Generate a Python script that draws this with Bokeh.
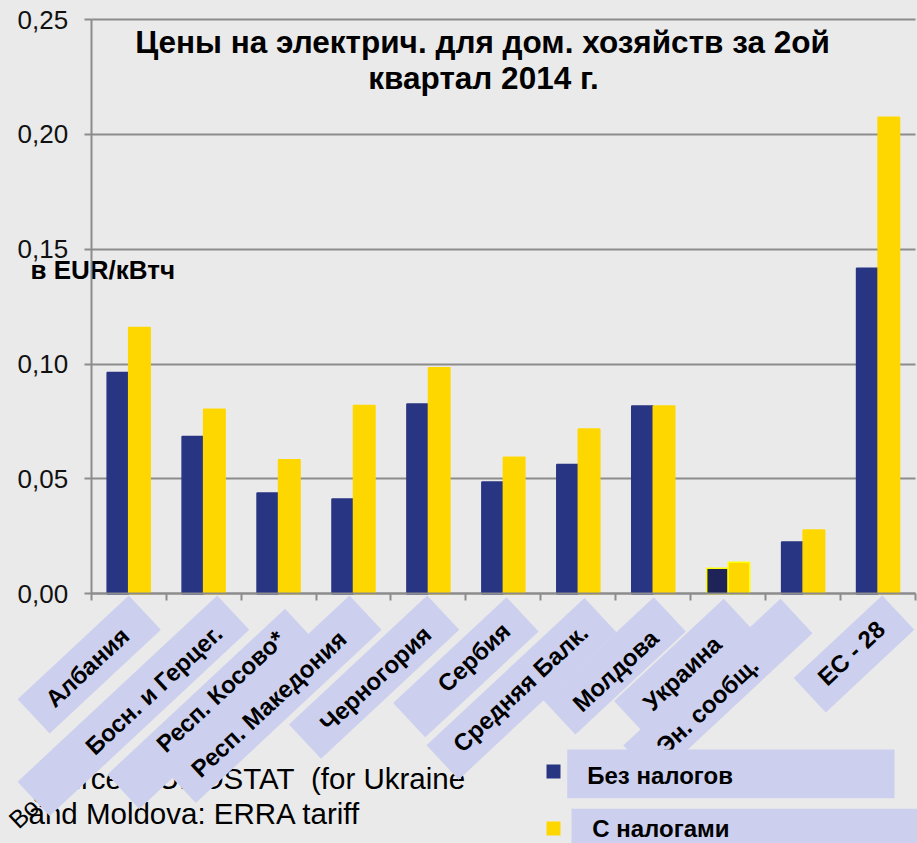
import math
import numpy as np
from bokeh.plotting import figure
from bokeh.models import (ColumnDataSource, Range1d, FixedTicker, CustomJSTickFormatter,
                          GlobalInlineStyleSheet)
from bokeh.transform import dodge
from bokeh.core.properties import value
from bokeh.embed import file_html
from bokeh.resources import INLINE

# ---------------- data ----------------
categories = ["Албания", "Босн. и Герцег.", "Респ. Косово*", "Респ. Македония", "Черногория",
              "Сербия", "Средняя Балк.", "Молдова", "Украина", "Эн. сообщ.", "ЕС - 28"]
without_taxes = [0.0963, 0.0685, 0.0439, 0.0413, 0.0826, 0.0487, 0.0563, 0.0817, 0.0111, 0.0226, 0.1417]
with_taxes = [0.1159, 0.0803, 0.0583, 0.0820, 0.0984, 0.0594, 0.0717, 0.0817, 0.0137, 0.0278, 0.2075]
y_ticks = [0.0, 0.05, 0.10, 0.15, 0.20, 0.25]
title_lines = ["Цены на электрич. для дом. хозяйств за 2ой", "квартал 2014 г."]
unit_label = "в EUR/кВтч"
source_lines = ["Source: EUROSTAT\u00a0 (for Ukraine", "and Moldova: ERRA tariff"]
hidden_label = "Bos"
legend_labels = ["Без налогов", "С налогами"]

# ---------------- style ----------------
BG = "#EAEAEA"
BLUE = "#283583"
YELLOW = "#FFD700"
LAV = "#CCD0EE"
GRID = "#8C8C8C"
FONT = "Liberation Sans"

W, H = 917, 843
X0_PX, PX_PER_CAT = 90.7, 74.94      # px of x=0, px per category
Y0_PX, PX_PER_UNIT = 593.3, 2297.2   # px of y=0, px per EUR


def X(px):  # page px -> data x
    return (px - X0_PX) / PX_PER_CAT


def Y(py):  # page px -> data y
    return (Y0_PX - py) / PX_PER_UNIT


p = figure(width=W, height=H, x_range=Range1d(X(0), X(W)), y_range=Range1d(Y(H), Y(0)),
           toolbar_location=None, output_backend="svg",
           min_border=0, min_border_left=0, min_border_right=0, min_border_top=0, min_border_bottom=0,
           background_fill_color=BG, border_fill_color=BG, outline_line_color=None)
p.stylesheets = [GlobalInlineStyleSheet(css="html, body {background-color: #EAEAEA; overflow: hidden;}")]

# axes
p.yaxis.fixed_location = 0
p.yaxis.bounds = (0, 0.25)
p.yaxis.ticker = FixedTicker(ticks=y_ticks)
p.yaxis.formatter = CustomJSTickFormatter(code="return tick.toFixed(2).replace('.', ',');")
p.yaxis.major_tick_out = 7
p.yaxis.major_tick_in = 0
p.yaxis.minor_tick_out = 0
p.yaxis.minor_tick_in = 0
p.yaxis.axis_line_color = GRID
p.yaxis.axis_line_width = 2
p.yaxis.major_tick_line_color = GRID
p.yaxis.major_tick_line_width = 2
p.yaxis.major_label_text_font = FONT
p.yaxis.major_label_text_font_size = "26px"
p.yaxis.major_label_text_color = "#111111"
p.yaxis.major_label_standoff = 16

p.xaxis.fixed_location = 0
p.xaxis.bounds = (0, len(categories))
p.xaxis.ticker = FixedTicker(ticks=list(range(len(categories) + 1)))
p.xaxis.formatter = CustomJSTickFormatter(code="return '';")
p.xaxis.major_tick_out = 7
p.xaxis.major_tick_in = 0
p.xaxis.minor_tick_out = 0
p.xaxis.minor_tick_in = 0
p.xaxis.axis_line_color = GRID
p.xaxis.axis_line_width = 2
p.xaxis.major_tick_line_color = GRID
p.xaxis.major_tick_line_width = 2

p.xgrid.visible = False
p.ygrid.ticker = FixedTicker(ticks=y_ticks)
p.ygrid.bounds = (-1, 1)
p.ygrid.cross_bounds = (0, len(categories))
p.ygrid.grid_line_color = GRID
p.ygrid.grid_line_width = 2

# bars
n = len(categories)
blue_line = [BLUE] * n
yel_line = [YELLOW] * n
blue_fill = [BLUE] * n
blue_fill[8] = "#1E2458"
blue_line[8] = "#FFFF00"
yel_line[8] = "#FFFF00"
src = ColumnDataSource(dict(x=np.arange(n) + 0.5, wo=without_taxes, wi=with_taxes,
                            bf=blue_fill, bl=blue_line, yl=yel_line))
p.vbar(x=dodge("x", -0.1435, range=p.x_range), top="wo", bottom=0, width=0.287, source=src,
       fill_color="bf", line_color="bl", line_width=1.5)
p.vbar(x=dodge("x", 0.1435, range=p.x_range), top="wi", bottom=0, width=0.287, source=src,
       fill_color=YELLOW, line_color="yl", line_width=1.5)

# title & unit label (y = vertical middle of the text line)
p.text(x=[X(482), X(483)], y=[Y(41), Y(77.5)], text=title_lines,
       text_font=value(FONT), text_font_style="bold", text_font_size="31.5px",
       text_align="center", text_baseline="middle", text_color="black")
p.text(x=[X(30)], y=[Y(269)], text=[unit_label],
       text_font=value(FONT), text_font_style="bold", text_font_size="26px",
       text_align="left", text_baseline="middle", text_color="black")

# source note (partly covered by label boxes)
p.text(x=[X(28), X(28)], y=[Y(777.5), Y(812.5)], text=source_lines,
       text_font=value(FONT), text_font_size="29.5px",
       text_align="left", text_baseline="middle", text_color="black")
p.text(x=[X(12)], y=[Y(823)], text=[hidden_label], angle=43, angle_units="deg",
       text_font=value(FONT), text_font_size="25px",
       text_align="left", text_baseline="alphabetic", text_color="black")

# category label boxes (rotated): top corner (px) and length
ANG = 43.0
ca, sa = math.cos(math.radians(ANG)), math.sin(math.radians(ANG))
THICK = 47
box_top = [(128.3, 595), (216.7, 595), (284.5, 608.3), (349, 595), (426.7, 595), (506, 596.7),
           (584, 597.5), (653.3, 596.7), (723.3, 598.3), (780, 598.3), (881.7, 595)]
box_len = [152, 273, 243, 254, 189, 155, 216, 151, 150, 215, 121]
bx, by = [], []
for (tx, ty), L in zip(box_top, box_len):
    cx = tx + (THICK / 2) * sa - (L / 2) * ca
    cy = ty + (THICK / 2) * ca + (L / 2) * sa
    bx.append(X(cx))
    by.append(Y(cy))
p.rect(x=bx, y=by, width=box_len, height=THICK, width_units="screen", height_units="screen",
       angle=ANG, angle_units="deg", fill_color=LAV, line_color=None)

label_centers = [(86.7, 666.7), (153.3, 689.2), (220, 690.8), (268.3, 703.3), (375, 678.3),
                 (473.3, 656.7), (520, 687.5), (615, 670), (681.7, 672.5), (706.7, 705), (850.8, 652.5)]
p.text(x=[X(c[0]) for c in label_centers], y=[Y(c[1]) for c in label_centers], text=categories,
       angle=ANG, angle_units="deg", text_font=value(FONT), text_font_style="bold",
       text_font_size="24px", text_align="center", text_baseline="middle", text_color="black")

# legend
p.rect(x=[X(553), X(553)], y=[Y(771), Y(828)], width=14, height=14, width_units="screen",
       height_units="screen", fill_color=[BLUE, YELLOW], line_color=None)
p.quad(left=[X(566.7), X(571)], right=[X(894), X(920)], top=[Y(749), Y(808.3)],
       bottom=[Y(797.7), Y(850)], fill_color=LAV, line_color=None)
p.text(x=[X(586.7), X(591.7)], y=[Y(775), Y(828)], text=legend_labels,
       text_font=value(FONT), text_font_style="bold", text_font_size="24px",
       text_align="left", text_baseline="middle", text_color="black")

open("out.html", "w").write(file_html(p, INLINE))
